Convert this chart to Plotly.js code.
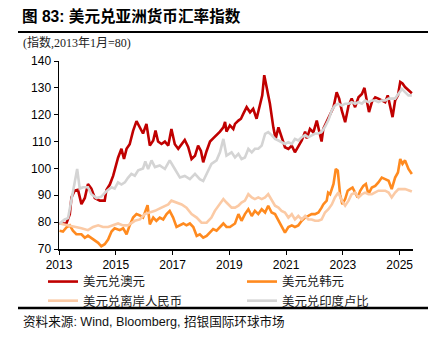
<!DOCTYPE html>
<html>
<head>
<meta charset="utf-8">
<script src="https://cdn.plot.ly/plotly-3.0.1.min.js"></script>
<style>
  html, body { margin: 0; padding: 0; background: #ffffff; }
  #chart { width: 441px; height: 344px; }
</style>
</head>
<body>
<div id="chart"></div>
<script>
// Series names (legend labels)
const seriesNames = ['美元兑澳元', '美元兑韩元', '美元兑离岸人民币', '美元兑印度卢比'];

// 美元兑澳元 (index, 2013-01 = 80)
const audX = [2013.02,2013.26,2013.38,2013.44,2013.55,2013.67,2013.79,2013.91,2014.02,2014.14,2014.26,2014.44,2014.61,2014.67,2014.79,2014.91,2015.08,2015.20,2015.29,2015.38,2015.49,2015.61,2015.73,2015.90,2015.96,2016.08,2016.20,2016.32,2016.40,2016.49,2016.61,2016.73,2016.85,2016.96,2017.08,2017.20,2017.32,2017.43,2017.55,2017.67,2017.79,2017.90,2018.00,2018.08,2018.20,2018.32,2018.43,2018.55,2018.67,2018.79,2018.85,2018.90,2019.02,2019.14,2019.20,2019.32,2019.41,2019.49,2019.61,2019.73,2019.84,2019.96,2020.08,2020.16,2020.23,2020.32,2020.43,2020.55,2020.63,2020.73,2020.84,2020.96,2021.08,2021.20,2021.31,2021.43,2021.55,2021.67,2021.73,2021.84,2021.96,2022.08,2022.20,2022.25,2022.31,2022.43,2022.52,2022.67,2022.78,2022.87,2022.96,2023.08,2023.20,2023.31,2023.43,2023.55,2023.67,2023.76,2023.84,2023.92,2024.02,2024.14,2024.25,2024.37,2024.49,2024.58,2024.67,2024.75,2024.84,2024.94,2025.02,2025.10,2025.19,2025.31,2025.43];
const audY = [79.5,79.5,83,89.2,91.7,92,86.7,89,94.2,92.5,89,88,88,92,94,97.3,104,107.3,103.5,107.3,109,114,117.6,114,113,116.6,108.5,110.4,114.1,110,109.1,110,108.5,114.7,109,107.3,109,110.6,108,103.5,104.7,108.5,106.5,102.3,106.5,110,111.2,112.4,113.7,115.3,117.3,113.7,116,114.7,116.6,117.8,118.5,120.3,122.8,120.9,122.2,118.5,124.1,127.2,134.7,130.3,124.1,115.3,111,115.3,111.6,107.9,107.3,108.5,106,108.5,110.4,113.7,111.2,114.7,113.4,117.8,111.6,110,114.7,117.3,119.7,122.8,128.4,126,121.6,117.2,123.4,126,122.8,126.5,127.7,130,125.3,121,124.7,126.5,126,125.3,124.7,127.2,122.8,119.1,125.3,127.2,132.2,131.6,130.3,129,128];

// 美元兑韩元
const krwX = [2013.02,2013.14,2013.26,2013.38,2013.49,2013.61,2013.79,2013.91,2014.02,2014.20,2014.38,2014.49,2014.61,2014.73,2014.85,2014.96,2015.14,2015.26,2015.38,2015.49,2015.61,2015.73,2015.85,2015.96,2016.12,2016.20,2016.32,2016.43,2016.55,2016.67,2016.79,2016.90,2017.02,2017.14,2017.26,2017.38,2017.49,2017.61,2017.73,2017.85,2017.96,2018.08,2018.20,2018.32,2018.43,2018.55,2018.67,2018.79,2018.90,2019.02,2019.20,2019.32,2019.43,2019.55,2019.67,2019.79,2019.90,2020.02,2020.14,2020.26,2020.37,2020.49,2020.61,2020.73,2020.84,2020.96,2021.08,2021.20,2021.31,2021.43,2021.55,2021.67,2021.78,2021.90,2022.02,2022.14,2022.25,2022.31,2022.43,2022.48,2022.55,2022.67,2022.75,2022.82,2022.90,2022.98,2023.08,2023.17,2023.25,2023.34,2023.43,2023.52,2023.61,2023.72,2023.81,2023.90,2024.02,2024.14,2024.25,2024.37,2024.49,2024.61,2024.72,2024.84,2024.94,2025.02,2025.10,2025.19,2025.31,2025.43];
const krwY = [76.8,76.5,78,78.8,76.8,75.5,75.5,74.2,75,73.5,72.3,71,71.8,73.5,76.5,77.7,77,77.7,75.5,78.8,81.7,83,82.5,81.7,86.3,79.2,81.7,80.5,81.7,81,83,84.2,81.7,78.2,78.8,79.5,78.8,79.5,78.2,74.9,75.5,74.2,74.9,76.2,77.4,76.8,78.2,79.5,78.2,78.2,79.5,83,80.5,83,84.8,82.3,84.2,83,84.8,83.6,86.1,83.6,83,80.5,78.2,76.1,78.2,78.8,78.2,78.8,80.5,81.7,82.3,83,83,83.6,85.4,86.6,88,91,90.4,94.2,99.8,99.2,90.4,86.7,88.6,91.7,92.3,92.9,91,89.2,91.7,93.5,94.2,90.4,92.9,93.5,94.8,96.6,96,95.4,92.3,96.6,98.5,103.5,101.7,103,99.8,97.9];

// 美元兑离岸人民币
const cnhX = [2013.02,2013.26,2013.55,2013.79,2014.02,2014.20,2014.38,2014.55,2014.73,2014.91,2015.08,2015.26,2015.43,2015.67,2015.85,2016.02,2016.20,2016.38,2016.61,2016.85,2016.96,2017.14,2017.32,2017.49,2017.67,2017.85,2018.02,2018.20,2018.37,2018.49,2018.67,2018.79,2018.90,2019.08,2019.20,2019.32,2019.43,2019.55,2019.67,2019.79,2019.90,2020.02,2020.14,2020.26,2020.37,2020.49,2020.61,2020.73,2020.84,2020.96,2021.08,2021.20,2021.31,2021.43,2021.55,2021.67,2021.78,2021.90,2022.02,2022.14,2022.25,2022.37,2022.49,2022.61,2022.72,2022.84,2022.96,2023.08,2023.20,2023.31,2023.43,2023.55,2023.67,2023.78,2023.90,2024.02,2024.14,2024.25,2024.37,2024.49,2024.61,2024.72,2024.84,2024.96,2025.08,2025.19,2025.31,2025.43];
const cnhY = [79.5,79,78.2,77.7,77,78.2,78.8,78.2,78.2,78.8,79.5,78.8,78.8,80.5,81,83,83.6,84.2,85.4,86.6,88,87.3,86.6,85.4,83,81.7,79.8,79.8,81.7,84.2,86.6,88.6,87.3,85.4,85.4,86.1,87.3,88,90.4,89.2,88.6,89.2,88.6,89.2,90.4,88,86.1,85.4,84.2,83.6,81.7,83,81,82.3,81,82.3,81,81,80.5,80.5,81,83.6,84.8,86.6,89.2,91,88,86.1,88,90.4,91,89.2,90.4,91,90.4,90.4,91,91.7,91.7,91.7,91,89.2,91,92.3,92.3,92.3,91.9,91.4];

// 美元兑印度卢比
const inrX = [2013.02,2013.20,2013.32,2013.44,2013.55,2013.64,2013.73,2013.85,2014.02,2014.14,2014.32,2014.49,2014.67,2014.85,2014.96,2015.08,2015.20,2015.32,2015.43,2015.55,2015.67,2015.79,2015.96,2016.04,2016.14,2016.26,2016.38,2016.55,2016.73,2016.90,2017.08,2017.26,2017.43,2017.61,2017.79,2017.96,2018.08,2018.20,2018.37,2018.55,2018.67,2018.79,2018.90,2019.08,2019.20,2019.32,2019.43,2019.55,2019.67,2019.79,2019.90,2020.02,2020.14,2020.26,2020.37,2020.49,2020.61,2020.73,2020.84,2020.96,2021.08,2021.20,2021.31,2021.43,2021.55,2021.67,2021.78,2021.90,2022.02,2022.14,2022.25,2022.37,2022.49,2022.61,2022.72,2022.84,2022.96,2023.08,2023.20,2023.31,2023.43,2023.55,2023.67,2023.78,2023.90,2024.02,2024.14,2024.25,2024.37,2024.49,2024.61,2024.72,2024.84,2024.96,2025.08,2025.19,2025.31,2025.43];
const inrY = [79.5,81,81.5,88,94,99.8,92.5,93,93,90.4,89,89.5,91.5,93,92.5,94.8,94,94.8,96.5,98,97.3,99.3,100,102.6,99.8,103,100.5,101.1,99.8,103,99.8,96.6,97.2,96,98,96,95.3,98,101.7,103,106,111,104.8,106,104.1,105.4,103.5,104.1,107.3,106,107.3,107.3,108.5,112.9,113.5,112.4,111,110.4,109.8,109.1,109.8,109.1,111,110.4,111.6,112.4,111.6,112.4,113,113,113.6,115.5,118,121.6,123.4,124.1,123.4,124.1,124.1,124.7,124.1,124.7,124.1,125.3,124.7,125.3,125.3,124.7,125.3,125.3,126,126,126,127.8,129.6,128.4,127.2,127.2];

// Axis ticks
const xTickVals = [2013, 2015, 2017, 2019, 2021, 2023, 2025];
const xTickText = ['2013', '2015', '2017', '2019', '2021', '2023', '2025'];
const yTickVals = [70, 80, 90, 100, 110, 120, 130, 140];

// Texts
const titleText = '图 83: 美元兑亚洲货币汇率指数';
const unitText = '(指数,2013年1月=80)';
const sourceText = '资料来源: Wind, Bloomberg, 招银国际环球市场';

const colors = ['#C00000', '#FF8A1F', '#FBCAA5', '#D4D4D4'];
const xs = [audX, krwX, cnhX, inrX];
const ys = [audY, krwY, cnhY, inrY];

const traces = seriesNames.map((name, i) => ({
  type: 'scatter',
  mode: 'lines',
  name: name,
  x: xs[i],
  y: ys[i],
  line: { color: colors[i], width: 2.6 },
  hoverinfo: 'skip'
}));

const W = 441, H = 344;
const M = { l: 59, r: 28, t: 61, b: 95 };
const PW = W - M.l - M.r, PH = H - M.t - M.b;
const px = v => (v - M.l) / PW;
const py = v => (H - M.b - v) / PH;

const cjk = 'Liberation Sans, Noto Sans CJK SC, sans-serif';

const layout = {
  width: W,
  height: H,
  margin: M,
  paper_bgcolor: '#ffffff',
  plot_bgcolor: '#ffffff',
  showlegend: true,
  title: {
    text: '<b>' + titleText + '</b>',
    font: { family: cjk, size: 15.6, color: '#000000' },
    xref: 'container', yref: 'container',
    x: 22 / W, y: 1 - 17 / H,
    xanchor: 'left', yanchor: 'middle'
  },
  xaxis: {
    range: [2013, 2025.47],
    tickvals: xTickVals,
    ticktext: xTickText,
    ticks: 'outside',
    ticklen: 4,
    tickcolor: '#000000',
    tickwidth: 1,
    showline: true,
    linecolor: '#000000',
    linewidth: 1.5,
    showgrid: false,
    zeroline: false,
    tickfont: { family: 'Liberation Sans, Arial, sans-serif', size: 12, color: '#000000' },
    fixedrange: true
  },
  yaxis: {
    range: [70, 140],
    tickvals: yTickVals,
    ticks: 'outside',
    ticklen: 4,
    tickcolor: '#000000',
    tickwidth: 1,
    showline: true,
    linecolor: '#000000',
    linewidth: 1.5,
    showgrid: false,
    zeroline: false,
    tickfont: { family: 'Liberation Sans, Arial, sans-serif', size: 12, color: '#000000' },
    fixedrange: true
  },
  legend: {
    orientation: 'h',
    x: px(47), y: py(267),
    xanchor: 'left', yanchor: 'top',
    entrywidth: 154,
    entrywidthmode: 'pixels',
    traceorder: 'normal',
    font: { family: cjk, size: 12.4, color: '#222222' },
    bgcolor: 'rgba(0,0,0,0)',
    itemclick: false, itemdoubleclick: false
  },
  shapes: [
    { type: 'line', xref: 'paper', yref: 'paper', x0: px(18), x1: px(428), y0: py(32), y1: py(32),
      line: { color: '#000000', width: 2 } },
    { type: 'line', xref: 'paper', yref: 'paper', x0: px(18), x1: px(428), y0: py(308), y1: py(308),
      line: { color: '#000000', width: 2.5 } }
  ],
  annotations: [
    { text: unitText, xref: 'paper', yref: 'paper', x: px(21), y: py(42),
      xanchor: 'left', yanchor: 'middle', showarrow: false,
      font: { family: 'Liberation Serif, Noto Sans CJK SC, serif', size: 12, color: '#222222' } },
    { text: sourceText, xref: 'paper', yref: 'paper', x: px(21), y: py(321),
      xanchor: 'left', yanchor: 'middle', showarrow: false,
      font: { family: cjk, size: 12.6, color: '#111111' } }
  ]
};

Plotly.newPlot('chart', traces, layout, { displayModeBar: false, staticPlot: true });
</script>
</body>
</html>
